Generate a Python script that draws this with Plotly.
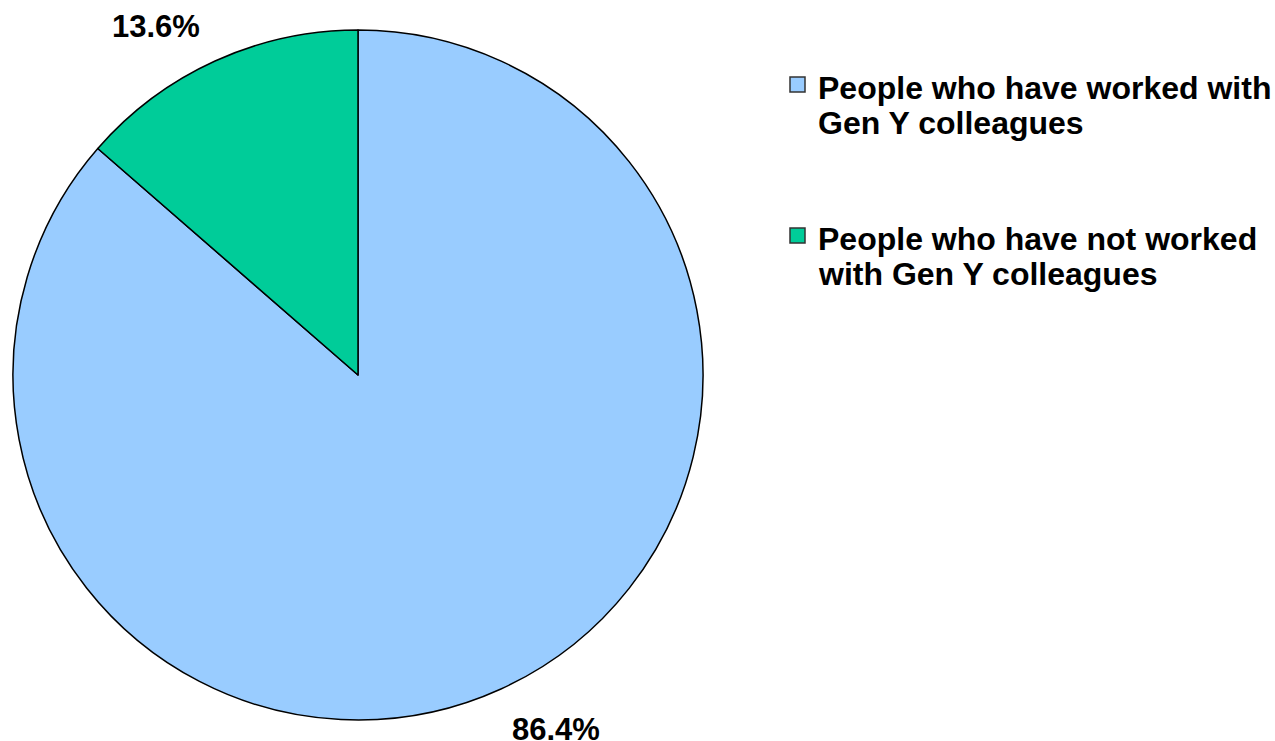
import math
import plotly.graph_objects as go

# Survey split
labels = ["People who have worked with<br>Gen Y colleagues",
          "People who have not worked<br>with Gen Y colleagues"]
values = [86.4, 13.6]
colors = ["#99CCFF", "#00CC99"]

W, H = 1275, 741
FONT = "Liberation Sans, Arial, sans-serif"

# Pie placement in pixels
cx, cy, R = 358, 375, 345
dom_x = [(cx - R) / W, (cx + R) / W]
dom_y = [1 - (cy + R) / H, 1 - (cy - R) / H]

fig = go.Figure(go.Pie(
    labels=labels,
    values=values,
    sort=False,
    direction="clockwise",
    rotation=0,
    marker=dict(colors=colors, line=dict(color="black", width=1.5)),
    textinfo="none",
    hoverinfo="label+percent",
    showlegend=False,
    domain=dict(x=dom_x, y=dom_y),
))

# Percentage labels placed outside each slice, cornered on the mid-angle ray
total = sum(values)
start = 0.0
label_r = R + 24
for v in values:
    frac = v / total
    mid = (start + frac / 2) * 2 * math.pi
    start += frac
    dx, dy = math.sin(mid), -math.cos(mid)
    px, py = cx + dx * label_r, cy + dy * label_r
    fig.add_annotation(
        x=px / W, y=1 - py / H, xref="paper", yref="paper",
        text=f"<b>{v:.1f}%</b>", showarrow=False,
        xanchor="left" if dx >= 0 else "right",
        yanchor="top" if dy >= 0 else "bottom",
        xshift=0 if dx >= 0 else -4,
        yshift=0 if dy >= 0 else -6,
        font=dict(family=FONT, size=31, color="black"),
        borderpad=0,
    )

# Legend drawn by hand: swatch plus wrapped text lines
leg_x, leg_y0, leg_step, line_h = 790, 77, 151, 35
for i, (lab, col) in enumerate(zip(labels, colors)):
    top = leg_y0 + i * leg_step
    fig.add_shape(
        type="rect", xref="paper", yref="paper",
        x0=leg_x / W, x1=(leg_x + 15) / W,
        y0=1 - top / H, y1=1 - (top + 15) / H,
        fillcolor=col, line=dict(color="#333333", width=1.5),
    )
    for j, line in enumerate(lab.split("<br>")):
        mid_y = top + 11 + j * line_h
        fig.add_annotation(
            x=(leg_x + 27) / W, y=1 - mid_y / H, xref="paper", yref="paper",
            text=f"<b>{line}</b>", showarrow=False,
            xanchor="left", yanchor="middle", align="left",
            font=dict(family=FONT, size=32, color="black"),
            borderpad=0,
        )

fig.update_layout(
    width=W, height=H,
    margin=dict(l=0, r=0, t=0, b=0),
    paper_bgcolor="white", plot_bgcolor="white",
)

fig.write_html("out.html")
